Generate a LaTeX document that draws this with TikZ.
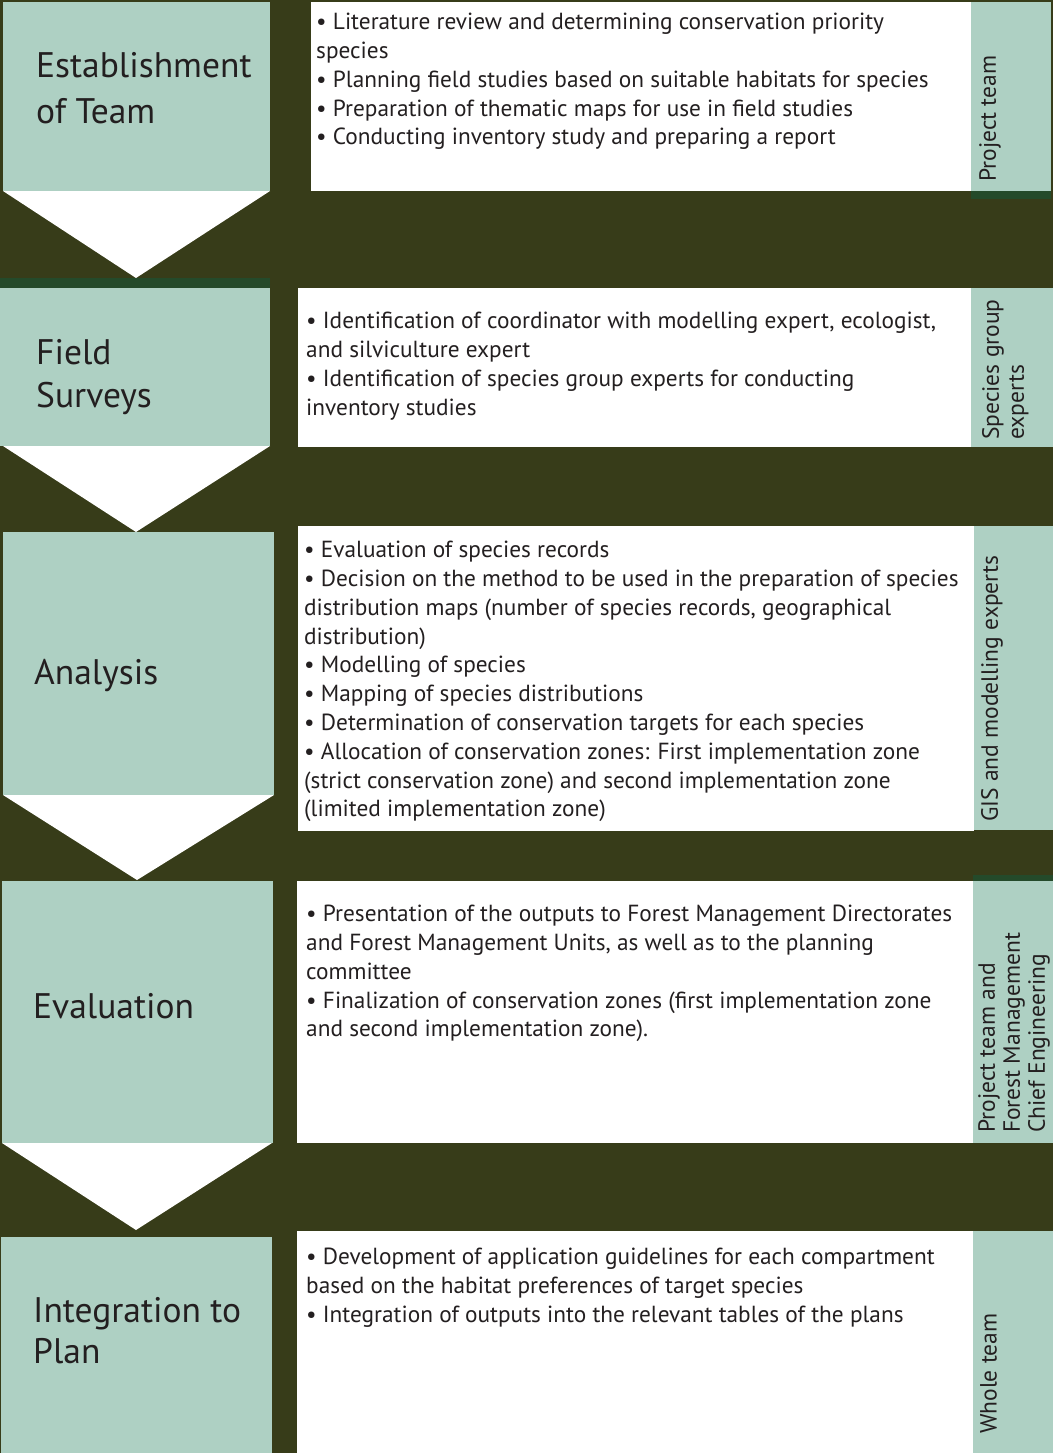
\documentclass[tikz,border=0pt]{standalone}
\usepackage{fontspec}
\setmainfont{PT Sans}
\definecolor{bgolive}{HTML}{373C19}
\definecolor{lgreen}{HTML}{AED0C3}
\definecolor{dgreen}{HTML}{244A2A}
\definecolor{txt}{HTML}{231F20}
\begin{document}
\begin{tikzpicture}[x=1pt,y=-1pt,
  body/.style={anchor=north west,inner sep=0pt,align=left,text=txt,font=\fontsize{23.3}{28.8}\selectfont},
  title/.style={anchor=north west,inner sep=0pt,align=left,text=txt,font=\fontsize{35.5}{44}\selectfont},
  side/.style={anchor=north west,inner sep=0pt,align=left,rotate=90,text=txt,font=\fontsize{23.5}{25}\selectfont}]
\useasboundingbox (0,0) rectangle (1053,1453);
\fill[bgolive] (0,0) rectangle (1053,1453);
% row 1
\fill[lgreen] (3,2) rectangle (270,191);
\fill[white] (3,191) -- (270,191) -- (136,278) -- cycle;
\fill[white] (311,2) rectangle (971,191);
\fill[lgreen] (971,2) rectangle (1051,191);
\fill[dgreen] (971,191) rectangle (1051,199);
% row 2
\fill[dgreen] (0,278) rectangle (270,288);
\fill[lgreen] (0,288) rectangle (270,446);
\fill[white] (3,446) -- (270,446) -- (136,532) -- cycle;
\fill[white] (298,288) rectangle (971,447);
\fill[lgreen] (971,288) rectangle (1053,447);
% row 3
\fill[lgreen] (3,532) rectangle (274,795);
\fill[white] (3,795) -- (274,795) -- (137,880) -- cycle;
\fill[white] (298,526) rectangle (974,831);
\fill[lgreen] (974,526) rectangle (1053,830);
% row 4
\fill[lgreen] (2,881) rectangle (273,1143);
\fill[white] (2,1143) -- (272,1143) -- (136,1230) -- cycle;
\fill[white] (297,881) rectangle (973,1143);
\fill[dgreen] (973,875) rectangle (1053,881);
\fill[lgreen] (973,881) rectangle (1053,1143);
% row 5
\fill[lgreen] (1,1237) rectangle (272,1453);
\fill[white] (297,1231) rectangle (973,1453);
\fill[lgreen] (973,1231) rectangle (1053,1453);

% titles
\node[title,font=\fontsize{35.5}{46}\selectfont] (t1) at (36,52) {Establishment\\of Team};
\node[title,font=\fontsize{35.5}{43}\selectfont] (t2) at (36,339) {Field\\Surveys};
\node[title] (t3) at (34,659) {Analysis};
\node[title] (t4) at (33,993) {Evaluation};
\node[title,font=\fontsize{35.5}{41}\selectfont] (t5) at (33,1297) {Integration to\\Plan};

% body texts
\node[body] (b1) at (316,13) {• Literature review and determining conservation priority\\species\\• Planning field studies based on suitable habitats for species\\• Preparation of thematic maps for use in field studies\\• Conducting inventory study and preparing a report};
\node[body] (b2) at (306,312) {• Identification of coordinator with modelling expert, ecologist,\\and silviculture expert\\• Identification of species group experts for conducting\\inventory studies};
\node[body] (b3) at (304,541) {• Evaluation of species records\\• Decision on the method to be used in the preparation of species\\distribution maps (number of species records, geographical\\distribution)\\• Modelling of species\\• Mapping of species distributions\\• Determination of conservation targets for each species\\• Allocation of conservation zones: First implementation zone\\(strict conservation zone) and second implementation zone\\(limited implementation zone)};
\node[body] (b4) at (306,905) {• Presentation of the outputs to Forest Management Directorates\\and Forest Management Units, as well as to the planning\\committee\\• Finalization of conservation zones (first implementation zone\\and second implementation zone).};
\node[body] (b5) at (306,1248) {• Development of application guidelines for each compartment\\based on the habitat preferences of target species\\• Integration of outputs into the relevant tables of the plans};

% side labels
\node[side] (s1) at (979,182) {Project team};
\node[side] (s2) at (982,440) {Species group\\experts};
\node[side] (s3) at (981,822) {GIS and modelling experts};
\node[side] (s4) at (978,1133) {Project team and\\Forest Management\\Chief Engineering};
\node[side] (s5) at (980,1434) {Whole team};
\end{tikzpicture}
\end{document}
